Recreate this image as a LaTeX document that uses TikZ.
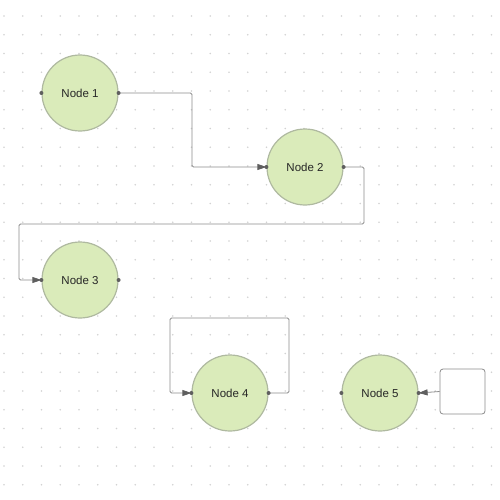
\documentclass[tikz,border=0pt]{standalone}
\usepackage{fontspec}
\setmainfont{Liberation Sans}
\usetikzlibrary{arrows.meta}
\definecolor{nodefill}{RGB}{218,235,186}
\definecolor{nodeedge}{RGB}{175,185,160}
\definecolor{wire}{RGB}{140,140,140}
\definecolor{tipcol}{RGB}{95,95,95}
\definecolor{griddot}{RGB}{210,210,210}
\tikzset{
  statenode/.style={circle, draw=nodeedge, line width=1.2pt, fill=nodefill,
    minimum size=76pt, inner sep=0pt, font=\fontsize{11.5}{13}\selectfont, text=black!85},
  wireline/.style={draw=wire, line width=0.8pt, rounded corners=1.5pt,
    -{Triangle[length=9pt,width=6pt,fill=tipcol,color=tipcol]}},
  portdot/.style={fill=tipcol, circle, inner sep=0pt, minimum size=4pt},
  framebox/.style={draw=wire, line width=0.8pt, rounded corners=3pt, fill=white}
}
\begin{document}
\begin{tikzpicture}[x=1pt,y=-1pt]
  \useasboundingbox[fill=white] (0,0) rectangle (500,500);
  % dotted background grid
  \foreach \i in {0,...,26} {
    \foreach \j in {0,...,26} {
      \fill[griddot] (4+18.75*\i,16+18.75*\j) circle (0.8pt);
    }
  }
  % states
  \node[statenode] (n1) at (80,93) {Node 1};
  \node[statenode] (n2) at (305,167) {Node 2};
  \node[statenode] (n3) at (80,280) {Node 3};
  \node[statenode] (n4) at (230,393) {Node 4};
  \node[statenode] (n5) at (380,393) {Node 5};
  \node[framebox, minimum width=45pt, minimum height=45pt] (box) at (462.5,391.5) {};
  % connectors
  \draw[wireline] (n1.east) -| (192,130) |- (n2.west);
  \draw[wireline] (n2.east) -- (364,167) -- (364,224) -- (19,224) -- (19,280) -- (n3.west);
  \draw[wireline] (n4.east) -- (289,393) -- (289,318) -- (170,318) -- (170,393) -- (n4.west);
  \draw[wireline] (box.west) -- (n5.east);
  % ports
  \foreach \n in {n1,n2,n3,n4,n5} {
    \node[portdot] at (\n.west) {};
    \node[portdot] at (\n.east) {};
  }
\end{tikzpicture}
\end{document}
